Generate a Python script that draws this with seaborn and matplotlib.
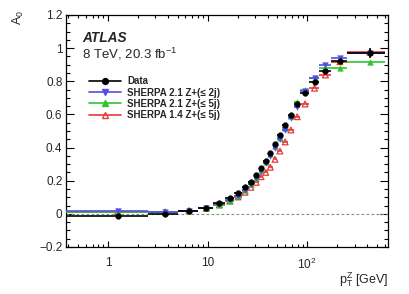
import numpy as np
import pandas as pd
import matplotlib
matplotlib.use("Agg")
import matplotlib.pyplot as plt
import seaborn as sns
from matplotlib.lines import Line2D
from matplotlib.ticker import FixedLocator, FuncFormatter, MultipleLocator

# pT(Z) binning [GeV]
bin_lo = [0.0, 2.5, 5.0, 8.0, 11.4, 14.9, 18.5, 22.0, 25.5, 29.0, 32.6, 36.4,
          40.4, 44.9, 50.2, 56.4, 63.9, 73.4, 85.4, 105.0, 132.0, 173.0, 253.0]
bin_hi = [2.5, 5.0, 8.0, 11.4, 14.9, 18.5, 22.0, 25.5, 29.0, 32.6, 36.4, 40.4,
          44.9, 50.2, 56.4, 63.9, 73.4, 85.4, 105.0, 132.0, 173.0, 253.0, 600.0]
pt_center = [1.25, 3.75, 6.5, 9.7, 13.15, 16.7, 20.25, 23.75, 27.25, 30.8, 34.5, 38.4,
             42.65, 47.55, 53.3, 60.15, 68.65, 79.4, 95.2, 118.5, 152.5, 213.0, 426.5]

a0_data = [-0.013, -0.002, 0.018, 0.038, 0.066, 0.094, 0.124, 0.160, 0.194, 0.234, 0.275, 0.320,
           0.370, 0.421, 0.475, 0.537, 0.599, 0.664, 0.732, 0.798, 0.862, 0.922, 0.969]
a0_data_err = [0.006, 0.005, 0.005, 0.005, 0.005, 0.005, 0.005, 0.005, 0.005, 0.005, 0.005, 0.005,
               0.005, 0.005, 0.006, 0.006, 0.007, 0.008, 0.009, 0.010, 0.012, 0.015, 0.030]
a0_sherpa21_2j = [0.015, 0.012, 0.020, 0.035, 0.058, 0.082, 0.110, 0.142, 0.177, 0.216, 0.257, 0.305,
                  0.350, 0.398, 0.452, 0.508, 0.577, 0.647, 0.740, 0.818, 0.898, 0.942, 0.972]
a0_sherpa21_5j = [0.012, 0.010, 0.018, 0.035, 0.055, 0.078, 0.106, 0.143, 0.179, 0.219, 0.262, 0.310,
                  0.360, 0.410, 0.455, 0.520, 0.590, 0.677, 0.748, 0.820, 0.878, 0.878, 0.918]
a0_sherpa14_5j = [0.012, 0.012, 0.020, 0.033, 0.055, 0.078, 0.102, 0.130, 0.160, 0.190, 0.224, 0.250,
                  0.281, 0.329, 0.379, 0.434, 0.506, 0.586, 0.663, 0.758, 0.838, 0.918, 0.975]

series_names = ["Data", "SHERPA 2.1 Z+(\u2264 2j)", "SHERPA 2.1 Z+(\u2264 5j)", "SHERPA 1.4 Z+(\u2264 5j)"]

df = pd.DataFrame({"pt": pt_center, "lo": bin_lo, "hi": bin_hi,
                   "Data": a0_data, "Data_err": a0_data_err,
                   series_names[1]: a0_sherpa21_2j,
                   series_names[2]: a0_sherpa21_5j,
                   series_names[3]: a0_sherpa14_5j})

sns.set_theme(style="ticks")
plt.rcParams['font.family'] = ['Liberation Sans', 'DejaVu Sans']
plt.rcParams['mathtext.fontset'] = 'custom'
plt.rcParams['mathtext.rm'] = 'Liberation Sans'
plt.rcParams['mathtext.it'] = 'Liberation Sans:italic'

fig = plt.figure(figsize=(4.09, 2.94), dpi=100)
ax = fig.add_axes([0.161, 0.160, 0.788, 0.789])

xerr = [df["pt"] - df["lo"], df["hi"] - df["pt"]]

# style per series: colour, marker, filled
styles = {
    series_names[3]: ("#e83a3a", "^", False),
    series_names[2]: ("#2fc42f", "^", True),
    series_names[1]: ("#5050e6", "v", True),
    "Data": ("black", "o", True),
}

ax.axhline(0, color="#888888", lw=0.8, ls=(0, (2.5, 2)), zorder=1)

for z, name in enumerate([series_names[3], series_names[2], series_names[1], "Data"]):
    col, mk, filled = styles[name]
    yerr = df["Data_err"] if name == "Data" else None
    ax.errorbar(df["pt"], df[name], xerr=xerr, yerr=yerr, fmt="none",
                ecolor=col, elinewidth=1.2, capsize=0, zorder=2 + z)
    sns.scatterplot(data=df, x="pt", y=name, ax=ax, marker=mk, s=17,
                    color=col if filled else "none",
                    edgecolor=col, linewidth=0.9 if not filled else 0.3,
                    zorder=3 + z, legend=False)

ax.set_xscale("log")
ax.set_xlim(0.378, 650)
ax.set_ylim(-0.2, 1.2)

ax.xaxis.set_major_locator(FixedLocator([1, 10, 100]))
minor_x = [m * 10.0 ** e for e in range(-1, 3) for m in range(2, 10)]
ax.xaxis.set_minor_locator(FixedLocator(minor_x))
ax.xaxis.set_major_formatter(FuncFormatter(lambda v, p: {1: "1", 10: "10", 100: r"$\mathregular{10^2}$"}.get(int(round(v)), "")))
ax.xaxis.set_minor_formatter(FuncFormatter(lambda v, p: ""))
ax.yaxis.set_major_locator(MultipleLocator(0.2))
ax.yaxis.set_minor_locator(MultipleLocator(0.05))
ax.yaxis.set_major_formatter(FuncFormatter(lambda v, p: ("%g" % round(v, 2)).replace("-", "\u2212")))

ax.tick_params(axis="both", which="both", direction="in", top=True, right=True,
               labelsize=8.5, width=0.8, color="black")
ax.tick_params(axis="x", which="major", length=4.3, pad=7)
ax.tick_params(axis="x", which="minor", length=2.2)
ax.tick_params(axis="y", which="major", length=5.8, pad=2.5)
ax.tick_params(axis="y", which="minor", length=2.9)
for sp in ax.spines.values():
    sp.set_color("black")
    sp.set_linewidth(0.9)

ax.set_xlabel(r"$\mathregular{p_{T}^{Z}}$ [GeV]", fontsize=9, ha="right")
ax.xaxis.set_label_coords(1.0, -0.10)
ax.set_ylabel(r"$\mathregular{A_{0}}$", fontsize=9, ha="right")
ax.yaxis.set_label_coords(-0.125, 1.02)

fig.text(82 / 409, 1 - 42 / 294, "ATLAS", fontsize=9.8, fontweight="bold",
         fontstyle="italic", va="baseline")
fig.text(82 / 409, 1 - 59 / 294, r"8 TeV, 20.3 fb$^{\mathregular{-1}}$", fontsize=9.5,
         va="baseline")

handles = []
for name in series_names:
    col, mk, filled = styles[name]
    handles.append(Line2D([0], [0], color=col, lw=1.2, marker=mk, markersize=4.2,
                          markerfacecolor=col if filled else "none", markeredgecolor=col))
leg = ax.legend(handles, series_names, loc="upper left", bbox_to_anchor=(0.06, 0.752),
                frameon=False, prop={"size": 7, "weight": "bold"}, handlelength=3.3,
                handletextpad=0.6, labelspacing=0.12, borderaxespad=0)

ax.grid(False)
fig.savefig("out.png", dpi=100)
